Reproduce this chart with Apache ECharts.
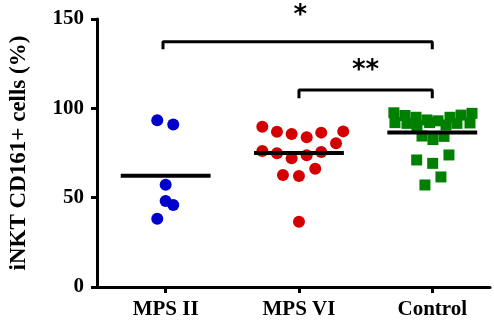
<!DOCTYPE html>
<html><head><meta charset="utf-8">
<script src="https://cdn.jsdelivr.net/npm/echarts@6/dist/echarts.min.js"></script>
<style>html,body{margin:0;padding:0;background:#fff}#c{width:494px;height:327px}</style>
</head><body><div id="c"></div>
<script>
// Categories and tick labels
var categories = ['MPS II', 'MPS VI', 'Control'];
var yTicks = [0, 50, 100, 150];

// Per-group values (%) and horizontal jitter (in category units)
var mps2Values = [93.3, 90.9, 57.2, 48.1, 45.9, 38.2];
var mps2Jitter = [-0.063, 0.057, 0.0, 0.0, 0.057, -0.063];

var mps6Values = [89.7, 86.9, 85.6, 83.8, 86.4, 87.1, 80.4, 76.1, 74.8, 72.0, 73.7, 75.5, 66.2, 62.7, 62.1, 36.5];
var mps6Jitter = [-0.275, -0.165, -0.055, 0.058, 0.167, 0.332, 0.278, -0.275, -0.165, -0.055, 0.058, 0.167, 0.122, -0.12, 0.0, 0.0];

var ctrlValues = [97.5, 96.0, 95.0, 93.5, 93.0, 95.0, 96.2, 97.2, 92.0, 91.6, 90.2, 92.0, 90.7, 91.6, 91.8, 84.5, 82.5, 84.3, 71.1, 69.2, 73.9, 61.6, 57.1];
var ctrlJitter = [-0.288, -0.205, -0.122, -0.04, 0.043, 0.133, 0.216, 0.298, -0.28, -0.19, -0.115, -0.02, 0.103, 0.185, 0.283, -0.077, 0.005, 0.088, -0.117, 0.003, 0.125, 0.065, -0.055];

// Significance brackets: [left category pos, right category pos, top value, foot value, text]
var bracket1 = [0.98, 3.0, 137.3, 133.0, '*'];
var bracket2 = [2.0, 3.0, 110.2, 105.6, '**'];
var starPos1 = [2.01, 151.6];
var starPos2 = [2.5, 121.0];

var meanHalfWidth = 0.337;

function mean(a){var s=0;for(var i=0;i<a.length;i++)s+=a[i];return s/a.length;}
function pts(center, jit, vals){return vals.map(function(v,i){return [center+jit[i], v];});}
function meanLine(center, vals){var m=mean(vals);return [[center-meanHalfWidth,m],[center+meanHalfWidth,m]];}
function bracket(b){return [[b[0],b[3]],[b[0],b[2]],[b[1],b[2]],[b[1],b[3]]];}

var labelFont = {fontFamily:'Liberation Serif', fontWeight:'bold', fontSize:21, color:'#000'};
var lineStyleMean = {color:'#000', width:4};

var chart = echarts.init(document.getElementById('c'), null, {renderer:'canvas'});
chart.setOption({
  animation:false,
  backgroundColor:'#fff',
  grid:{left:97, right:4, top:19, bottom:40, containLabel:false},
  xAxis:{
    type:'value', min:0.485, max:3.433,
    splitLine:{show:false},
    axisLine:{show:true, lineStyle:{color:'#000', width:3}},
    axisTick:{show:true, customValues:[1,2,3], length:6, lineStyle:{color:'#000', width:3}},
    axisLabel:Object.assign({show:true, customValues:[1,2,3], margin:12,
      formatter:function(v){return categories[Math.round(v)-1];}}, labelFont)
  },
  yAxis:{
    type:'value', min:yTicks[0], max:yTicks[yTicks.length-1], interval:50,
    name:'iNKT CD161+ cells (%)', nameLocation:'middle', nameGap:66,
    nameTextStyle:{fontFamily:'Liberation Serif', fontWeight:'bold', fontSize:23, color:'#000'},
    splitLine:{show:false},
    axisLine:{show:true, lineStyle:{color:'#000', width:3}},
    axisTick:{show:true, length:6, lineStyle:{color:'#000', width:3}},
    axisLabel:Object.assign({margin:13}, labelFont)
  },
  series:[
    {type:'scatter', symbol:'circle', symbolSize:12, itemStyle:{color:'#0000CC', opacity:1}, data:pts(1, mps2Jitter, mps2Values), z:3},
    {type:'scatter', symbol:'circle', symbolSize:12, itemStyle:{color:'#D40000', opacity:1}, data:pts(2, mps6Jitter, mps6Values), z:3},
    {type:'scatter', symbol:'rect', symbolSize:11, itemStyle:{color:'#008000', opacity:1}, data:pts(3, ctrlJitter, ctrlValues), z:3},
    {type:'line', data:meanLine(1, mps2Values), symbol:'none', lineStyle:lineStyleMean, z:4},
    {type:'line', data:meanLine(2, mps6Values), symbol:'none', lineStyle:lineStyleMean, z:4},
    {type:'line', data:meanLine(3, ctrlValues), symbol:'none', lineStyle:lineStyleMean, z:4},
    {type:'line', data:bracket(bracket1), symbol:'none', lineStyle:{color:'#000', width:3}, clip:false},
    {type:'line', data:bracket(bracket2), symbol:'none', lineStyle:{color:'#000', width:3}, clip:false},
    {type:'scatter', symbolSize:0, clip:false, data:[starPos1, starPos2], itemStyle:{opacity:1},
      label:{show:true, position:'inside', fontFamily:'DejaVu Sans', fontWeight:'bold', fontSize:26, color:'#000', opacity:1,
        formatter:function(p){return p.dataIndex===0?bracket1[4]:bracket2[4];}}}
  ]
});
</script></body></html>
